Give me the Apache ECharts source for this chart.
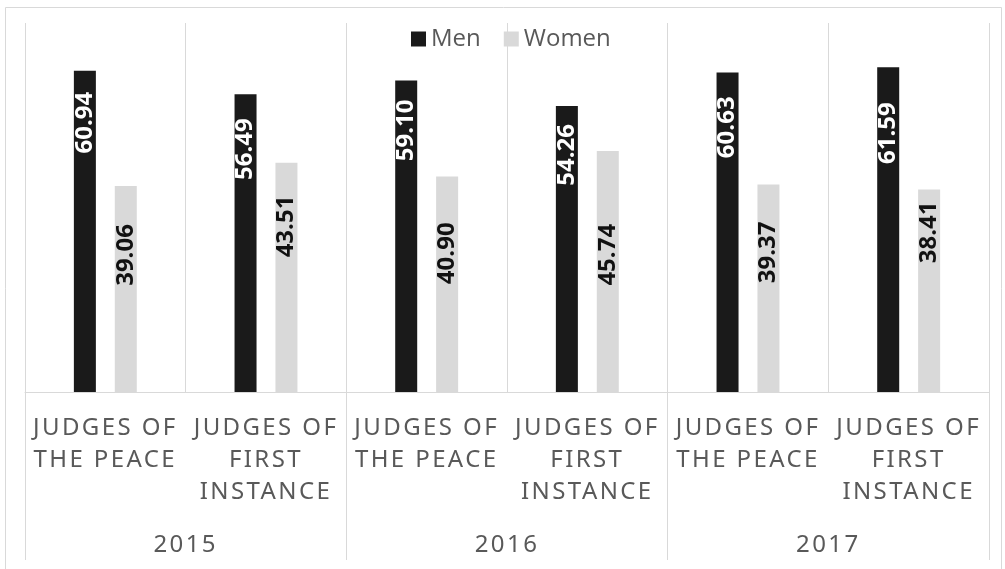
<!DOCTYPE html>
<html lang="en" style="height: 100%">
<head>
    <meta charset="utf-8">
</head>
<body style="height: 100%; margin: 0; background: #fff">
<div id="container" style="width: 1005px; height: 569px"></div>

<script type="text/javascript" src="https://cdn.jsdelivr.net/npm/echarts@6.0.0/dist/echarts.min.js"></script>
<script type="text/javascript">
    var categories = [
        'JUDGES OF\nTHE PEACE', 'JUDGES OF\nFIRST\nINSTANCE',
        'JUDGES OF\nTHE PEACE', 'JUDGES OF\nFIRST\nINSTANCE',
        'JUDGES OF\nTHE PEACE', 'JUDGES OF\nFIRST\nINSTANCE'
    ];
    var years = ['2015', '2016', '2017'];
    var men = [60.94, 56.49, 59.10, 54.26, 60.63, 61.59];
    var women = [39.06, 43.51, 40.90, 45.74, 39.37, 38.41];
    // labels were placed by hand in the original, gap from bar top in px
    var menLabelGap = [21, 24, 19, 18, 24, 35];
    var womenLabelGap = [38, 33, 46, 73, 37, 12];

    // the axis labels are letter-spaced; canvas can do it, echarts has no option for it
    var fillText = CanvasRenderingContext2D.prototype.fillText;
    CanvasRenderingContext2D.prototype.fillText = function () {
        this.letterSpacing = this.font.indexOf('Noto Sans') >= 0 ? '2.4px' : '0px';
        return fillText.apply(this, arguments);
    };

    function withGaps(values, gaps) {
        return values.map(function (v, i) {
            return { value: v, label: { distance: gaps[i] } };
        });
    }

    var dom = document.getElementById('container');
    var myChart = echarts.init(dom, null, { renderer: 'canvas' });

    var barLabel = {
        show: true,
        position: 'insideTop',
        rotate: 90,
        align: 'right',
        verticalAlign: 'middle',
        fontFamily: 'Open Sans',
        fontWeight: 'bold',
        fontSize: 24,
        formatter: function (p) {
            return p.value.toFixed(2);
        }
    };

    var option = {
        animation: false,
        textStyle: { fontFamily: 'Open Sans' },
        graphic: [{
            type: 'rect',
            z: -1,
            shape: { x: 5.5, y: 7.5, width: 996, height: 580 },
            style: { fill: 'none', stroke: '#d9d9d9', lineWidth: 1 }
        }],
        legend: {
            left: 411,
            top: 27,
            padding: 0,
            itemWidth: 15,
            itemHeight: 15,
            itemGap: 23,
            icon: 'rect',
            textStyle: { color: '#595959', fontSize: 24, fontFamily: 'Open Sans' },
            data: ['Men', 'Women']
        },
        grid: {
            left: 25,
            right: 16,
            top: 23,
            bottom: 177,
            containLabel: false,
            outerBoundsMode: 'none'
        },
        xAxis: [
            {
                type: 'category',
                data: categories,
                axisLine: { lineStyle: { color: '#d9d9d9', width: 1 } },
                axisTick: { show: false },
                splitLine: { show: true, interval: 0, lineStyle: { color: '#d9d9d9', width: 1 } },
                axisLabel: {
                    interval: 0,
                    margin: 20,
                    color: '#595959',
                    fontFamily: 'Noto Sans',
                    fontSize: 24,
                    lineHeight: 32
                }
            },
            {
                type: 'category',
                position: 'bottom',
                data: years,
                axisLine: { show: false },
                axisTick: { show: true, interval: 0, length: 168, lineStyle: { color: '#d9d9d9', width: 1 } },
                splitLine: { show: false },
                axisLabel: {
                    interval: 0,
                    margin: 137,
                    color: '#595959',
                    fontFamily: 'Noto Sans',
                    fontSize: 24,
                    lineHeight: 32
                }
            }
        ],
        yAxis: {
            type: 'value',
            min: 0,
            max: 70,
            show: false
        },
        series: [
            {
                name: 'Men',
                type: 'bar',
                barWidth: 22,
                barGap: '86%',
                itemStyle: { color: '#1a1a1a' },
                label: Object.assign({}, barLabel, { color: '#fff' }),
                data: withGaps(men, menLabelGap)
            },
            {
                name: 'Women',
                type: 'bar',
                barWidth: 22,
                itemStyle: { color: '#d9d9d9' },
                label: Object.assign({}, barLabel, { color: '#111' }),
                data: withGaps(women, womenLabelGap)
            }
        ]
    };

    myChart.setOption(option);
    window.addEventListener('resize', myChart.resize);
</script>
</body>
</html>
